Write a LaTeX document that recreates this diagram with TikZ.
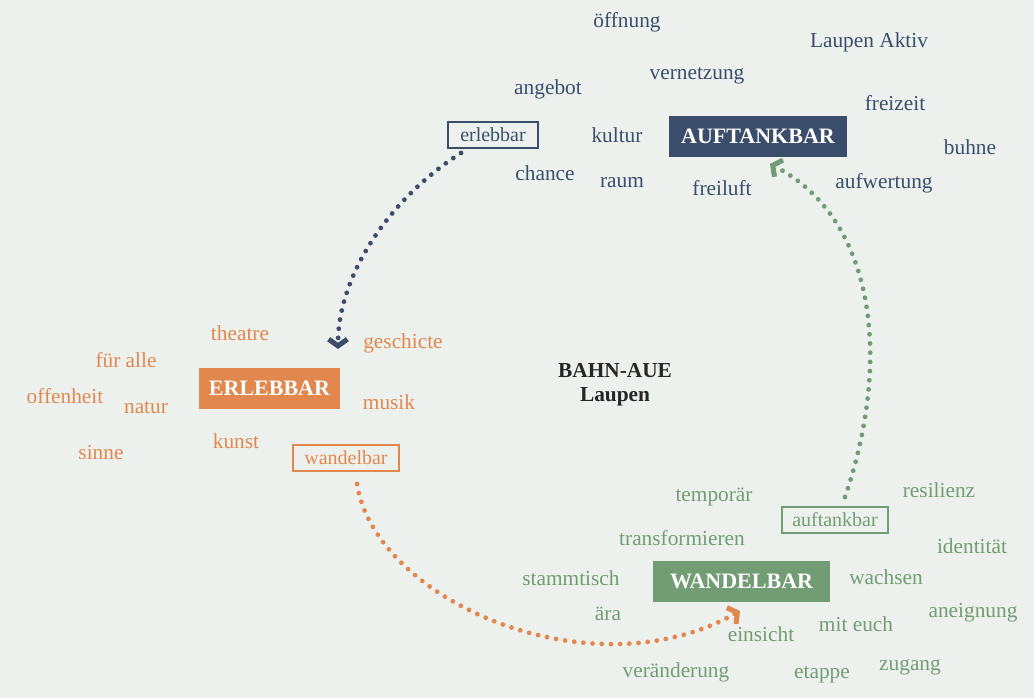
\documentclass[tikz,border=0pt]{standalone}
\usepackage{fontspec}
\setmainfont{Liberation Serif}
\usetikzlibrary{arrows.meta}
\definecolor{bg}{HTML}{EDF1EE}
\definecolor{navy}{HTML}{3A4E6B}
\definecolor{orng}{HTML}{E2884E}
\definecolor{grn}{HTML}{729C74}
\tikzset{
  word/.style={font=\fontsize{16}{19}\selectfont, inner sep=0pt},
  nw/.style={word, text=navy},
  ow/.style={word, text=orng},
  gw/.style={word, text=grn},
  bigbox/.style={font=\fontsize{16.5}{19}\selectfont\bfseries, text=white, minimum height=31pt, inner xsep=6pt},
  smallbox/.style={font=\fontsize{15}{18}\selectfont, draw, line width=1.5pt, minimum height=19.5pt, inner xsep=5pt, inner ysep=0pt},
  dotline/.style={line width=3.6pt, line cap=round, dash pattern=on 0pt off 6.9pt},
  tip/.style={-{Straight Barb[length=5pt,width=14pt,line width=3.8pt,line cap=butt]}},
}
\begin{document}
\begin{tikzpicture}[x=0.75pt,y=-0.75pt]
\useasboundingbox[fill=bg] (0,0) rectangle (1034,698);
% navy group
\node[nw] (w1) at (627,22) {öffnung};
\node[nw] (w2) at (869,42) {Laupen Aktiv};
\node[nw] (w3) at (548,89) {angebot};
\node[nw] (w4) at (697,76) {vernetzung};
\node[nw] (w5) at (895,103) {freizeit};
\node[smallbox, draw=navy, text=navy, minimum width=67pt] (erl) at (493,135) {erlebbar};
\node[nw] (w6) at (617,135) {kultur};
\node[bigbox, fill=navy, minimum width=133.5pt] (AUF) at (758,136.5) {AUFTANKBAR};
\node[nw] (w7) at (970,147) {buhne};
\node[nw] (w8) at (545,173) {chance};
\node[nw] (w9) at (622,183) {raum};
\node[nw] (w10) at (722,188) {freiluft};
\node[nw] (w11) at (884,183) {aufwertung};
% orange group
\node[ow] (o1) at (240,333) {theatre};
\node[ow] (o2) at (403,343) {geschicte};
\node[ow] (o3) at (126,360) {für alle};
\node[bigbox, fill=orng, minimum width=106pt] (ERL) at (269.5,388.5) {ERLEBBAR};
\node[ow] (o4) at (65,396) {offenheit};
\node[ow] (o5) at (146,408) {natur};
\node[ow] (o6) at (389,402) {musik};
\node[ow] (o7) at (236,441) {kunst};
\node[smallbox, draw=orng, text=orng, minimum width=79.5pt] (wan) at (346,458) {wandelbar};
\node[ow] (o8) at (101,453) {sinne};
% center
\node[font=\fontsize{16}{18}\selectfont\bfseries, text=black!85, align=center, inner sep=0pt] (ctr) at (615,384.5) {BAHN-AUE\\Laupen};
% green group
\node[gw] (g1) at (714,497) {temporär};
\node[gw] (g2) at (939,490) {resilienz};
\node[smallbox, draw=grn, text=grn, minimum width=79.5pt] (auf) at (835,519.5) {auftankbar};
\node[gw] (g3) at (682,538) {transformieren};
\node[gw] (g4) at (972,546) {identität};
\node[gw] (g5) at (571,578) {stammtisch};
\node[bigbox, fill=grn, minimum width=133pt] (WAN) at (741.5,581.5) {WANDELBAR};
\node[gw] (g6) at (886,577) {wachsen};
\node[gw] (g7) at (608,614) {ära};
\node[gw] (g8) at (973,613) {aneignung};
\node[gw] (g9) at (856,624) {mit euch};
\node[gw] (g10) at (761,634) {einsicht};
\node[gw] (g11) at (910,667) {zugang};
\node[gw] (g12) at (676,672) {veränderung};
\node[gw] (g13) at (822,675) {etappe};
% connectors
\coordinate (nS) at (461,153);
\coordinate (nE) at (338,349);
\coordinate (oS) at (357,484);
\coordinate (oE) at (740,611);
\coordinate (gS) at (845,497);
\coordinate (gE) at (770,164);
\draw[dotline, navy, tip] (nS) .. controls (390,198) and (338,275) .. (nE);
\draw[dotline, orng, tip] (oS) .. controls (375,600) and (590,695) .. (oE);
\draw[dotline, grn, tip] (gS) .. controls (895,350) and (870,215) .. (gE);
\end{tikzpicture}
\end{document}
